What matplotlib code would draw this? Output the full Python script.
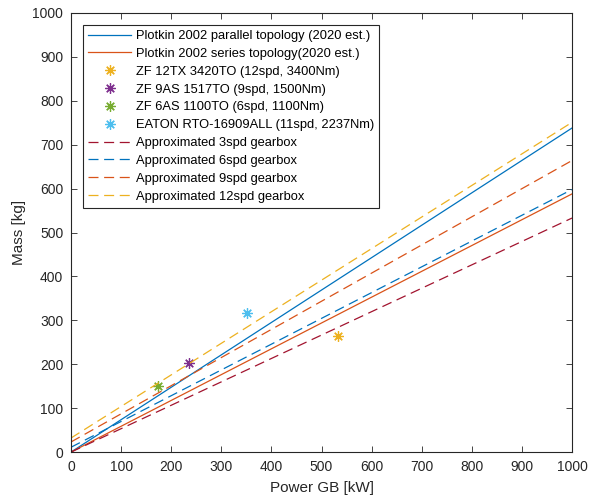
import numpy as np
import matplotlib
matplotlib.use("Agg")
import matplotlib.pyplot as plt

plt.rcParams['font.family'] = ['Liberation Sans', 'DejaVu Sans']

# data
power = [0, 1000]
parallel = [0, 738]
series = [0, 588]
approx_3 = [0, 533]
approx_6 = [11, 598]
approx_9 = [23, 664]
approx_12 = [32, 751]

pt_names = ["ZF 12TX 3420TO (12spd, 3400Nm)", "ZF 9AS 1517TO (9spd, 1500Nm)",
            "ZF 6AS 1100TO (6spd, 1100Nm)", "EATON RTO-16909ALL (11spd, 2237Nm)"]
pt_power = [533, 236, 174, 351]
pt_mass = [264, 203, 150, 317]

c_blue = (0, 0.447, 0.741)
c_orange = (0.85, 0.325, 0.098)
c_yellow = (0.929, 0.694, 0.125)
c_purple = (0.494, 0.184, 0.556)
c_green = (0.466, 0.674, 0.188)
c_cyan = (0.301, 0.745, 0.933)
c_red = (0.635, 0.078, 0.184)
c_axis = (0.15, 0.15, 0.15)

fig = plt.figure(figsize=(5.94, 4.99), dpi=100)
ax = fig.add_axes([0.1195, 0.094, 0.8435, 0.88])

ax.plot(power, parallel, color=c_blue, lw=0.9, label="Plotkin 2002 parallel topology (2020 est.)")
ax.plot(power, series, color=c_orange, lw=0.9, label="Plotkin 2002 series topology(2020 est.)")
for x, y, c, n in zip(pt_power, pt_mass, [c_yellow, c_purple, c_green, c_cyan], pt_names):
    ax.plot([x], [y], linestyle='none', marker=(8, 2, 0), ms=7.5, mew=0.9, color=c, label=n)
dash = (8, 4.5)
ax.plot(power, approx_3, color=c_red, lw=0.9, dashes=dash, label="Approximated 3spd gearbox")
ax.plot(power, approx_6, color=c_blue, lw=0.9, dashes=dash, label="Approximated 6spd gearbox")
ax.plot(power, approx_9, color=c_orange, lw=0.9, dashes=dash, label="Approximated 9spd gearbox")
ax.plot(power, approx_12, color=c_yellow, lw=0.9, dashes=dash, label="Approximated 12spd gearbox")

ax.set_xlim(0, 1000)
ax.set_ylim(0, 1000)
ax.set_xticks(np.arange(0, 1001, 100))
ax.set_yticks(np.arange(0, 1001, 100))
ax.tick_params(direction='in', top=True, right=True, length=4, width=0.6,
               labelsize=10, colors=c_axis)
ax.tick_params(axis='x', pad=6)
ax.tick_params(axis='y', pad=5.5)
for s in ax.spines.values():
    s.set_color(c_axis)
    s.set_linewidth(0.8)
ax.set_xlabel("Power GB [kW]", fontsize=11, color=c_axis, labelpad=4.5)
ax.set_ylabel("Mass [kg]", fontsize=11, color=c_axis, labelpad=5)

leg = ax.legend(loc='upper left', bbox_to_anchor=(0.024, 0.973), fontsize=9.3, handlelength=3.35,
                handletextpad=0.35, labelspacing=0.45, borderpad=0.4, fancybox=False,
                framealpha=1, borderaxespad=0)
leg.get_frame().set_edgecolor(c_axis)
leg.get_frame().set_linewidth(0.8)

fig.savefig("out.png", dpi=100)
